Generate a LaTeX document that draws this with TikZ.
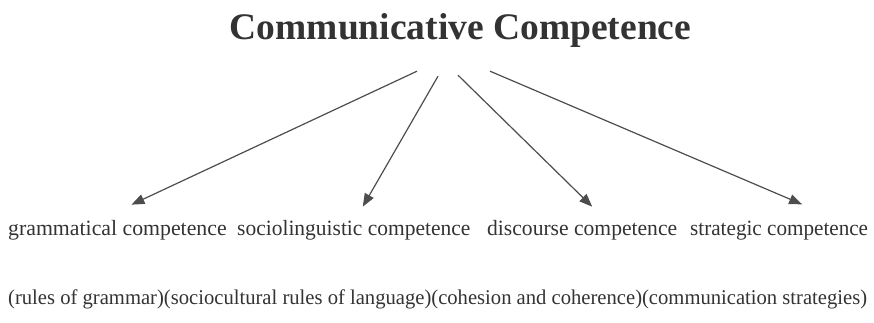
\documentclass[tikz,border=0pt]{standalone}
\usepackage{fontspec}
\setmainfont{Liberation Serif}
\usetikzlibrary{arrows.meta,positioning}
\definecolor{inkgray}{HTML}{333333}
\definecolor{linegray}{HTML}{4D4D4D}

\begin{document}
\begin{tikzpicture}[x=1pt,y=-1pt,
    comptext/.style={inner sep=0pt, anchor=base west, text=inkgray, font=\fontsize{21.8}{26}\selectfont},
    arr/.style={draw=linegray, line width=1.2pt, -{Triangle[length=13pt,width=10pt]}}]
    \useasboundingbox (0,0) rectangle (874,322);
    \node (cc) [inner sep=0pt, anchor=base, text=inkgray, font=\fontsize{37.5}{44}\selectfont\bfseries] at (460.5,39) {Communicative Competence};
    \node (gram) [comptext] at (8,235) {grammatical competence};
    \node (socio) [comptext] at (237,235) {\scalebox{0.985}[1]{sociolinguistic competence}};
    \node (disc) [comptext] at (487,235) {\scalebox{0.99}[1]{discourse competence}};
    \node (strat) [comptext] at (690,235) {\scalebox{0.97}[1]{strategic competence}};
    \node (rules) [comptext, font=\fontsize{21}{25}\selectfont] at (8,304) {\scalebox{0.982}[1]{(rules of grammar)(sociocultural rules of language)(cohesion and coherence)(communication strategies)}};

    \draw [arr] ([xshift=-43.5pt,yshift=-24pt]cc.south) -- ([xshift=14pt,yshift=15pt]gram.north);
    \draw [arr] ([xshift=-22.5pt,yshift=-29pt]cc.south) -- ([xshift=9pt,yshift=13pt]socio.north);
    \draw [arr] ([xshift=-2.5pt,yshift=-28pt]cc.south) -- ([xshift=10pt,yshift=13pt]disc.north);
    \draw [arr] ([xshift=29.5pt,yshift=-24pt]cc.south) -- ([xshift=23pt,yshift=16pt]strat.north);
\end{tikzpicture}
\end{document}
